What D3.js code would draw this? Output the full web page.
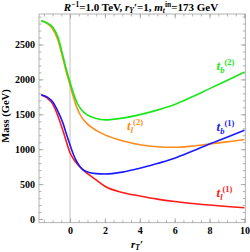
<!DOCTYPE html>
<html>
<head>
<meta charset="utf-8">
<script src="https://cdn.jsdelivr.net/npm/d3@7"></script>
<style>
  body { margin: 0; background: #fff; }
  svg text { font-family: "Liberation Serif", "DejaVu Serif", serif; font-weight: bold; }
</style>
</head>
<body>
<svg id="chart" width="250" height="252"></svg>
<script>
// DATA
// r_T' sample points
var rT = [-1.65, -1.3, -1.0, -0.7, -0.4, -0.2, 0, 0.2, 0.4, 0.7, 1.0, 1.5, 2, 3, 4, 5, 6, 7, 8, 9, 10];
// masses in GeV
var tl1 = [1775, 1730, 1650, 1480, 1260, 1100, 950, 860, 790, 715, 650, 560, 470, 380, 330, 285, 250, 222, 200, 180, 162];
var tb1 = [1780, 1745, 1680, 1545, 1370, 1210, 1060, 920, 815, 715, 672, 650, 645, 672, 726, 795, 870, 970, 1075, 1170, 1270];
var tl2 = [2845, 2800, 2725, 2570, 2290, 2090, 1920, 1740, 1590, 1445, 1360, 1270, 1205, 1120, 1065, 1035, 1027, 1045, 1075, 1105, 1140];
var tb2 = [2840, 2805, 2750, 2610, 2330, 2130, 1960, 1800, 1665, 1550, 1490, 1440, 1420, 1445, 1495, 1560, 1640, 1750, 1868, 1985, 2105];

var xTicks = [0, 2, 4, 6, 8, 10];
var yTicks = [0, 500, 1000, 1500, 2000, 2500];

// series: subscript, superscript, colour, label spot (data coords)
var series = [
  {vals: tl1, sub: "l", sup: "(1)", color: "#ff1a1a", lx: 8.4, ly: 315},
  {vals: tl2, sub: "l", sup: "(2)", color: "#ff8c1a", lx: 3.27, ly: 1273},
  {vals: tb1, sub: "b", sup: "(1)", color: "#1a1aff", lx: 8.4, ly: 1260},
  {vals: tb2, sub: "b", sup: "(2)", color: "#1ae61a", lx: 8.4, ly: 2130}
];

var svg = d3.select("#chart");
var pLeft = 39, pRight = 245.3, pTop = 14, pBottom = 222.7;

var x = d3.scaleLinear().domain([-1.78, 10.05]).range([pLeft, pRight]);
var y = d3.scaleLinear().domain([-53, 2937]).range([pBottom, pTop]);

var frameColor = "#a0a0a0";

// zero line
svg.append("line")
  .attr("x1", x(0)).attr("x2", x(0))
  .attr("y1", pBottom).attr("y2", pTop)
  .attr("stroke", "#c0c0c0").attr("stroke-width", 1);

// frame
svg.append("rect")
  .attr("x", pLeft).attr("y", pTop)
  .attr("width", pRight - pLeft).attr("height", pBottom - pTop)
  .attr("fill", "none").attr("stroke", frameColor).attr("stroke-width", 0.8);

function styleAxis(g) {
  g.select(".domain").remove();
  g.selectAll(".tick line").attr("stroke", frameColor).attr("stroke-width", 0.8);
  g.selectAll(".tick text").attr("fill", "#000").attr("font-size", 10)
    .attr("font-family", "Liberation Serif").attr("font-weight", "bold");
}

var xMinor = d3.range(-1.5, 10.01, 0.5);
var yMinor = d3.range(0, 2901, 100);

// bottom
svg.append("g").attr("transform", "translate(0," + pBottom + ")")
  .call(d3.axisBottom(x).tickValues(xMinor).tickSize(-2.5).tickFormat(""))
  .call(styleAxis);
svg.append("g").attr("transform", "translate(0," + pBottom + ")")
  .call(d3.axisBottom(x).tickValues(xTicks).tickSize(-4.5).tickPadding(4).tickFormat(d3.format("d")))
  .call(styleAxis);
// top
svg.append("g").attr("transform", "translate(0," + pTop + ")")
  .call(d3.axisTop(x).tickValues(xMinor).tickSize(-2.5).tickFormat(""))
  .call(styleAxis);
svg.append("g").attr("transform", "translate(0," + pTop + ")")
  .call(d3.axisTop(x).tickValues(xTicks).tickSize(-4.5).tickFormat(""))
  .call(styleAxis);
// left
svg.append("g").attr("transform", "translate(" + pLeft + ",0)")
  .call(d3.axisLeft(y).tickValues(yMinor).tickSize(-2.5).tickFormat(""))
  .call(styleAxis);
svg.append("g").attr("transform", "translate(" + pLeft + ",0)")
  .call(d3.axisLeft(y).tickValues(yTicks).tickSize(-4.5).tickPadding(4).tickFormat(d3.format("d")))
  .call(styleAxis);
// right
svg.append("g").attr("transform", "translate(" + pRight + ",0)")
  .call(d3.axisRight(y).tickValues(yMinor).tickSize(-2.5).tickFormat(""))
  .call(styleAxis);
svg.append("g").attr("transform", "translate(" + pRight + ",0)")
  .call(d3.axisRight(y).tickValues(yTicks).tickSize(-4.5).tickFormat(""))
  .call(styleAxis);

// curves
var line = d3.line()
  .x(function(d, i) { return x(rT[i]); })
  .y(function(d) { return y(d); })
  .curve(d3.curveMonotoneX);

var plot = svg.append("g");
series.forEach(function(s) {
  plot.append("path")
    .attr("d", line(s.vals))
    .attr("fill", "none")
    .attr("stroke", s.color)
    .attr("stroke-width", 1.6);
});

// curve labels
series.forEach(function(s) {
  var t = svg.append("text")
    .attr("x", x(s.lx)).attr("y", y(s.ly))
    .attr("fill", s.color).attr("font-size", 13);
  t.append("tspan").attr("font-style", "italic").text("t");
  t.append("tspan").attr("font-style", "italic").attr("font-size", 8.5).attr("dy", 2.5).text(s.sub);
  t.append("tspan").attr("font-size", 8.5).attr("dy", -8).text(s.sup);
});

// title
var title = svg.append("text")
  .attr("x", 141).attr("y", 11)
  .attr("text-anchor", "middle").attr("font-size", 11).attr("fill", "#000");
title.append("tspan").attr("font-style", "italic").text("R");
title.append("tspan").attr("font-size", 7.5).attr("dy", -4).text("\u22121");
title.append("tspan").attr("dy", 4).text("=1.0 TeV, ");
title.append("tspan").attr("font-style", "italic").text("r");
title.append("tspan").attr("font-style", "italic").attr("font-size", 7.5).attr("dy", 2).text("Y");
title.append("tspan").attr("dy", -2).text("\u2032=1, ");
title.append("tspan").attr("font-style", "italic").text("m");
title.append("tspan").attr("font-style", "italic").attr("font-size", 7.5).attr("dy", 2).text("t");
title.append("tspan").attr("font-size", 7.5).attr("dy", -6).text("in");
title.append("tspan").attr("dy", 4).text("=173 GeV");

// axis labels
svg.append("text")
  .attr("transform", "translate(9," + 116 + ") rotate(-90)")
  .attr("text-anchor", "middle").attr("font-size", 10.5).attr("fill", "#000")
  .text("Mass (GeV)");

var xl = svg.append("text")
  .attr("x", 137).attr("y", 248)
  .attr("text-anchor", "middle").attr("font-size", 11).attr("fill", "#000");
xl.append("tspan").attr("font-style", "italic").text("r");
xl.append("tspan").attr("font-style", "italic").attr("font-size", 7.5).attr("dy", 2).text("T");
xl.append("tspan").attr("dy", -2).text("\u2032");
</script>
</body>
</html>
